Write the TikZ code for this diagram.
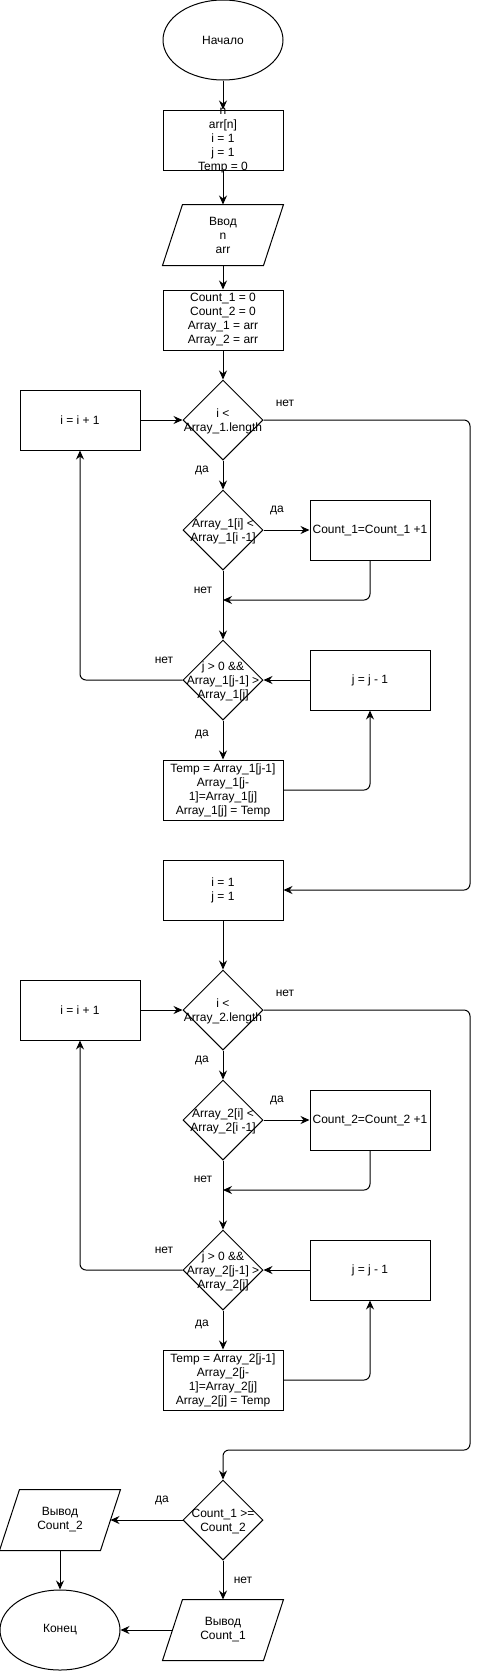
\documentclass[tikz,border=0pt]{standalone}
\usepackage{fontspec}
\setmainfont{Liberation Sans}
\usetikzlibrary{shapes.geometric,arrows.meta,calc}
\newcommand\drawpara[1]{\draw ($(#1.north west)+(10,0)$) -- ($(#1.north east)+(10,0)$) -- ($(#1.south east)+(-10,0)$) -- ($(#1.south west)+(-10,0)$) -- cycle;}
\begin{document}
\begin{tikzpicture}[x=1pt,y=-1pt,line width=1pt,
  every node/.style={font=\fontsize{12}{14}\selectfont},
  box/.style={draw, minimum width=120, minimum height=60, inner sep=0, align=center},
  dia/.style={draw, diamond, minimum width=80, minimum height=80, inner sep=0},
  term/.style={draw, ellipse, minimum width=120, minimum height=80, inner sep=0},
  io/.style={minimum width=100, minimum height=60, inner sep=0, align=center},
  txt/.style={align=center, inner sep=0},
  lbl/.style={inner sep=0},
  arr/.style={-{Stealth[length=9pt,width=8pt,inset=3pt]}, rounded corners=6}]
\useasboundingbox (0,0) rectangle (479,1671);

% top part
\node[term] (st) at (223,40) {Начало};
\node[box] (b1) at (223,140) {};
\node[txt] (b1t) at (223,141) {n\\arr[n]\\i = 1\\j = 1\\Temp = 0};
\node[io] (in1) at (223,235) {Ввод\\n\\arr};
\drawpara{in1}
\node[box] (b2) at (223,320) {Count\_1 = 0\\Count\_2 = 0\\Array\_1 = arr\\Array\_2 = arr};

% first loop
\node[dia] (d1) at (223,420) {};
\node[txt] (d1t) at (223,421) {i <\\Array\_1.length};
\node[box] (inc1) at (80,420) {i = i + 1};
\node[dia] (d2) at (223,530) {};
\node[txt] (d2t) at (223,531) {Array\_1[i] <\\Array\_1[i -1]};
\node[box] (c1) at (370,530) {Count\_1=Count\_1 +1};
\node[dia] (d3) at (223,680) {};
\node[txt] (d3t) at (223,681) {j > 0 \&\&\\Array\_1[j-1] >\\Array\_1[j]};
\node[box] (jm1) at (370,680) {j = j - 1};
\node[box] (tmp1) at (223,790) {Temp = Array\_1[j-1]\\Array\_1[j-\\1]=Array\_1[j]\\Array\_1[j] = Temp};
\node[box] (ij) at (223,890) {i = 1\\j = 1};

% second loop
\node[dia] (d4) at (223,1010) {};
\node[txt] (d4t) at (223,1011) {i <\\Array\_2.length};
\node[box] (inc2) at (80,1010) {i = i + 1};
\node[dia] (d5) at (223,1120) {};
\node[txt] (d5t) at (223,1121) {Array\_2[i] <\\Array\_2[i -1]};
\node[box] (c2) at (370,1120) {Count\_2=Count\_2 +1};
\node[dia] (d6) at (223,1270) {};
\node[txt] (d6t) at (223,1271) {j > 0 \&\&\\Array\_2[j-1] >\\Array\_2[j]};
\node[box] (jm2) at (370,1270) {j = j - 1};
\node[box] (tmp2) at (223,1380) {Temp = Array\_2[j-1]\\Array\_2[j-\\1]=Array\_2[j]\\Array\_2[j] = Temp};

% final
\node[dia] (d7) at (223,1520) {};
\node[txt] (d7t) at (223,1521) {Count\_1 >=\\Count\_2};
\node[io] (out2) at (60,1520) {Вывод\\Count\_2};
\drawpara{out2}
\node[io] (out1) at (223,1630) {Вывод\\Count\_1};
\drawpara{out1}
\node[term] (en) at (60,1630) {Конец};

% coordinates
\coordinate (m1) at (223,600);
\coordinate (m2) at (223,1190);
\coordinate (r1) at (470,420);
\coordinate (r2) at (470,1450);

% connectors
\draw[arr] (st.south) -- (b1.north);
\draw[arr] (b1.south) -- (in1.north);
\draw[arr] (in1.south) -- (b2.north);
\draw[arr] (b2.south) -- (d1.north);
\draw[arr] (inc1.east) -- (d1.west);
\draw[arr] (d1.east) -- (r1) |- (ij.east);
\draw[arr] (d1.south) -- (d2.north);
\draw[arr] (d2.east) -- (c1.west);
\draw[arr] (c1.south) |- (m1);
\draw[arr] (d2.south) -- (d3.north);
\draw[arr] (d3.west) -| (inc1.south);
\draw[arr] (jm1.west) -- (d3.east);
\draw[arr] (d3.south) -- (tmp1.north);
\draw[arr] (tmp1.east) -| (jm1.south);
\draw[arr] (ij.south) -- (d4.north);
\draw[arr] (inc2.east) -- (d4.west);
\draw[arr] (d4.east) -| (r2) -| (d7.north);
\draw[arr] (d4.south) -- (d5.north);
\draw[arr] (d5.east) -- (c2.west);
\draw[arr] (c2.south) |- (m2);
\draw[arr] (d5.south) -- (d6.north);
\draw[arr] (d6.west) -| (inc2.south);
\draw[arr] (jm2.west) -- (d6.east);
\draw[arr] (d6.south) -- (tmp2.north);
\draw[arr] (tmp2.east) -| (jm2.south);
\draw[arr] (d7.west) -- (out2.east);
\draw[arr] (d7.south) -- (out1.north);
\draw[arr] (out2.south) -- (en.north);
\draw[arr] (out1.west) -- (en.east);

% labels
\node[lbl] (l1) at (285,403) {нет};
\node[lbl] (l2) at (202,470) {да};
\node[lbl] (l3) at (277,510) {да};
\node[lbl] (l4) at (203,590) {нет};
\node[lbl] (l5) at (164,660) {нет};
\node[lbl] (l6) at (202,734) {да};
\node[lbl] (l7) at (285,993) {нет};
\node[lbl] (l8) at (202,1060) {да};
\node[lbl] (l9) at (277,1100) {да};
\node[lbl] (l10) at (203,1179) {нет};
\node[lbl] (l11) at (164,1250) {нет};
\node[lbl] (l12) at (202,1324) {да};
\node[lbl] (l13) at (162,1500) {да};
\node[lbl] (l14) at (243,1580) {нет};
\end{tikzpicture}
\end{document}
